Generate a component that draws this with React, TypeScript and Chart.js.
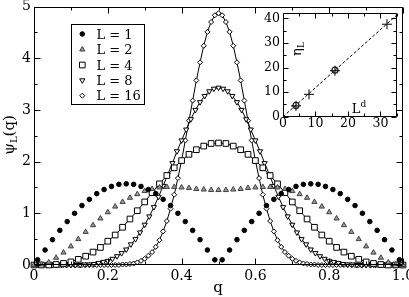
import React, { useEffect, useRef } from 'react';
import { Chart, registerables } from 'chart.js';

Chart.register(...registerables);

const FONT = "'DejaVu Serif', 'Liberation Serif', serif";

// ---------- main panel data ----------
const qL1 = [0.01,0.03,0.05,0.07,0.09,0.11,0.13,0.15,0.17,0.19,0.21,0.23,0.25,0.27,0.29,0.31,0.33,0.35,0.37,0.39,0.41,0.43,0.45,0.47,0.49,
  0.51,0.53,0.55,0.57,0.59,0.61,0.63,0.65,0.67,0.69,0.71,0.73,0.75,0.77,0.79,0.81,0.83,0.85,0.87,0.89,0.91,0.93,0.95,0.97,0.99];
const psiL1 = [0.10,0.29,0.49,0.67,0.84,1.00,1.15,1.27,1.38,1.46,1.52,1.56,1.57,1.56,1.52,1.46,1.38,1.27,1.15,1.00,0.84,0.67,0.49,0.29,0.10,
  0.10,0.29,0.49,0.67,0.84,1.00,1.15,1.27,1.38,1.46,1.52,1.56,1.57,1.56,1.52,1.46,1.38,1.27,1.15,1.00,0.84,0.67,0.49,0.29,0.10];

const q50 = [0,0.02,0.04,0.06,0.08,0.10,0.12,0.14,0.16,0.18,0.20,0.22,0.24,0.26,0.28,0.30,0.32,0.34,0.36,0.38,0.40,0.42,0.44,0.46,0.48,0.50,
  0.52,0.54,0.56,0.58,0.60,0.62,0.64,0.66,0.68,0.70,0.72,0.74,0.76,0.78,0.80,0.82,0.84,0.86,0.88,0.90,0.92,0.94,0.96,0.98,1.00];
const psiL2 = [0.00,0.01,0.05,0.14,0.24,0.36,0.50,0.64,0.77,0.90,1.02,1.13,1.22,1.30,1.37,1.43,1.47,1.50,1.51,1.51,1.50,1.49,1.47,1.46,1.45,1.45,
  1.45,1.46,1.47,1.49,1.50,1.51,1.51,1.50,1.47,1.43,1.37,1.30,1.22,1.13,1.02,0.90,0.77,0.64,0.50,0.36,0.24,0.14,0.05,0.01,0.00];
const psiL4 = [0.00,0.00,0.00,0.01,0.03,0.06,0.11,0.17,0.25,0.34,0.46,0.58,0.73,0.89,1.05,1.22,1.40,1.57,1.73,1.88,2.02,2.14,2.23,2.30,2.35,2.36,
  2.35,2.30,2.23,2.14,2.02,1.88,1.73,1.57,1.40,1.22,1.05,0.89,0.73,0.58,0.46,0.34,0.25,0.17,0.11,0.06,0.03,0.01,0.00,0.00,0.00];

const qL8 = [0,0.0125,0.025,0.0375,0.05,0.0625,0.075,0.0875,0.1,0.1125,0.125,0.1375,0.15,0.1625,0.175,0.1875,0.2,0.2125,0.225,0.2375,
  0.25,0.2625,0.275,0.2875,0.3,0.3125,0.325,0.3375,0.35,0.3625,0.375,0.3875,0.4,0.4125,0.425,0.4375,0.45,0.4625,0.475,0.4875,0.5,
  0.5125,0.525,0.5375,0.55,0.5625,0.575,0.5875,0.6,0.6125,0.625,0.6375,0.65,0.6625,0.675,0.6875,0.7,0.7125,0.725,0.7375,
  0.75,0.7625,0.775,0.7875,0.8,0.8125,0.825,0.8375,0.85,0.8625,0.875,0.8875,0.9,0.9125,0.925,0.9375,0.95,0.9625,0.975,0.9875,1];
const psiL8 = [0,0,0,0,0,0,0,0,0,0,0,
  0.01,0.01,0.02,0.04,0.06,0.08,0.12,0.17,0.23,0.30,0.40,0.50,0.63,0.78,0.94,1.12,1.32,1.53,1.75,1.97,2.20,2.41,2.62,2.82,3.00,3.15,3.27,3.36,3.41,3.43,
  3.41,3.36,3.27,3.15,3.00,2.82,2.62,2.41,2.20,1.97,1.75,1.53,1.32,1.12,0.94,0.78,0.63,0.50,0.40,0.30,0.23,0.17,0.12,0.08,0.06,0.04,0.02,0.01,0.01,
  0,0,0,0,0,0,0,0,0,0,0];

const q100 = [0,0.01,0.02,0.03,0.04,0.05,0.06,0.07,0.08,0.09,0.10,0.11,0.12,0.13,0.14,0.15,0.16,0.17,0.18,0.19,
  0.20,0.21,0.22,0.23,0.24,0.25,0.26,0.27,0.28,0.29,0.30,0.31,0.32,0.33,0.34,0.35,0.36,0.37,0.38,0.39,
  0.40,0.41,0.42,0.43,0.44,0.45,0.46,0.47,0.48,0.49,0.50,0.51,0.52,0.53,0.54,0.55,0.56,0.57,0.58,0.59,
  0.60,0.61,0.62,0.63,0.64,0.65,0.66,0.67,0.68,0.69,0.70,0.71,0.72,0.73,0.74,0.75,0.76,0.77,0.78,0.79,
  0.80,0.81,0.82,0.83,0.84,0.85,0.86,0.87,0.88,0.89,0.90,0.91,0.92,0.93,0.94,0.95,0.96,0.97,0.98,0.99,1.00];
const psiL16 = [0,0,0,0,0,0,0,0,0,0,0,0,0,0,0,0,0,0,0,0,0,0,0,0,
  0.01,0.01,0.02,0.03,0.05,0.08,0.12,0.18,0.25,0.35,0.48,0.65,0.85,1.09,1.36,1.68,2.02,2.41,2.79,3.18,3.57,3.92,4.24,4.51,4.70,4.83,4.87,
  4.83,4.70,4.51,4.24,3.92,3.57,3.18,2.79,2.41,2.02,1.68,1.36,1.09,0.85,0.65,0.48,0.35,0.25,0.18,0.12,0.08,0.05,0.03,0.02,0.01,0.01,
  0,0,0,0,0,0,0,0,0,0,0,0,0,0,0,0,0,0,0,0,0,0,0,0];

const seriesLabels = ['L = 1', 'L = 2', 'L = 4', 'L = 8', 'L = 16'];

const xMajorTicks = [0, 0.2, 0.4, 0.6, 0.8, 1];
const xMinorTicks = [0.1, 0.3, 0.5, 0.7, 0.9];
const yMajorTicks = [0, 1, 2, 3, 4, 5];
const yMinorTicks = [0.5, 1.5, 2.5, 3.5, 4.5];

// ---------- inset data ----------
const etaX = [4, 8, 16, 32];
const etaY = [4.4, 9.1, 18.7, 37.6];
const etaCircX = [4, 16];
const etaCircY = [4.6, 18.9];
const fitX = [0, 35];
const fitY = [0, 41.3];
const insetXMajor = [0, 10, 20, 30];
const insetXMinor = [5, 15, 25, 35];
const insetYMajor = [0, 10, 20, 30, 40];
const insetYMinor = [5, 15, 25, 35];

const pts = (xs: number[], ys: number[]) => xs.map((x, i) => ({ x, y: ys[i] }));

type Mk = { style: string; r: number; fill: string; stroke: string };
const markers: Mk[] = [
  { style: 'circle', r: 2.3, fill: '#000', stroke: '#000' },
  { style: 'triUp', r: 3.0, fill: '#9a9a9a', stroke: '#404040' },
  { style: 'rect', r: 4.0, fill: '#fff', stroke: '#000' },
  { style: 'triDown', r: 3.0, fill: '#fff', stroke: '#000' },
  { style: 'diamond', r: 2.5, fill: '#fff', stroke: '#000' },
];

function drawMarker(ctx: CanvasRenderingContext2D, m: Mk, x: number, y: number) {
  const r = m.r;
  ctx.beginPath();
  if (m.style === 'circle') ctx.arc(x, y, r, 0, Math.PI * 2);
  else if (m.style === 'triUp') { ctx.moveTo(x, y - r); ctx.lineTo(x + 0.866 * r, y + 0.5 * r); ctx.lineTo(x - 0.866 * r, y + 0.5 * r); ctx.closePath(); }
  else if (m.style === 'triDown') { ctx.moveTo(x, y + r); ctx.lineTo(x + 0.866 * r, y - 0.5 * r); ctx.lineTo(x - 0.866 * r, y - 0.5 * r); ctx.closePath(); }
  else if (m.style === 'rect') { const s = r * Math.SQRT1_2; ctx.rect(x - s, y - s, 2 * s, 2 * s); }
  else { ctx.moveTo(x - r, y); ctx.lineTo(x, y - r); ctx.lineTo(x + r, y); ctx.lineTo(x, y + r); ctx.closePath(); }
  ctx.fillStyle = m.fill; ctx.fill();
  ctx.strokeStyle = m.stroke; ctx.lineWidth = 1; ctx.stroke();
}

function drawFrame(chart: any, xMaj: number[], xMin: number[], yMaj: number[], yMin: number[], maj: number, min: number) {
  const { ctx, chartArea: a, scales } = chart;
  const L = Math.round(a.left) + 0.5, R = Math.round(a.right) - 0.5;
  const T = Math.round(a.top) + 0.5, B = Math.round(a.bottom) - 0.5;
  ctx.save();
  ctx.strokeStyle = '#000';
  ctx.lineWidth = 1;
  ctx.setLineDash([]);
  ctx.beginPath();
  ctx.rect(L, T, R - L, B - T);
  const vx = (v: number, len: number) => {
    const p = Math.round(scales.x.getPixelForValue(v)) + 0.5;
    ctx.moveTo(p, B); ctx.lineTo(p, B - len);
    ctx.moveTo(p, T); ctx.lineTo(p, T + len);
  };
  const vy = (v: number, len: number) => {
    const p = Math.round(scales.y.getPixelForValue(v)) + 0.5;
    ctx.moveTo(L, p); ctx.lineTo(L + len, p);
    ctx.moveTo(R, p); ctx.lineTo(R - len, p);
  };
  xMaj.forEach(v => vx(v, maj)); xMin.forEach(v => vx(v, min));
  yMaj.forEach(v => vy(v, maj)); yMin.forEach(v => vy(v, min));
  ctx.stroke();
  ctx.restore();
}

type Part = { t: string; size: number; dy: number };
function drawParts(ctx: CanvasRenderingContext2D, parts: Part[], cx: number, base: number) {
  let total = 0;
  const widths = parts.map(p => { ctx.font = `${p.size}px ${FONT}`; const w = ctx.measureText(p.t).width; total += w; return w; });
  let x = cx - total / 2;
  ctx.textAlign = 'left';
  ctx.textBaseline = 'alphabetic';
  parts.forEach((p, i) => { ctx.font = `${p.size}px ${FONT}`; ctx.fillText(p.t, x, base + p.dy); x += widths[i]; });
}

const setTicks = (vals: number[]) => (s: any) => { s.ticks = vals.map(v => ({ value: v })); };

export default function App() {
  const mainRef = useRef<HTMLCanvasElement>(null);
  const insetRef = useRef<HTMLCanvasElement>(null);

  useEffect(() => {
    const seriesData = [pts(qL1, psiL1), pts(q50, psiL2), pts(q50, psiL4), pts(qL8, psiL8), pts(q100, psiL16)];
    const chartStyles = ['circle', 'triangle', 'rect', 'triangle', 'rectRot'];
    const rotations = [0, 0, 0, 180, 0];
    const withLine = [false, false, true, true, true];

    const datasets = seriesData.map((d, i) => ({
      label: seriesLabels[i],
      data: d,
      showLine: withLine[i],
      borderColor: '#000',
      borderWidth: 1,
      pointStyle: chartStyles[i],
      rotation: rotations[i],
      pointRadius: markers[i].r,
      pointBackgroundColor: markers[i].fill,
      pointBorderColor: markers[i].stroke,
      pointBorderWidth: 1,
      clip: false,
    }));

    const mainDecor = {
      id: 'mainDecor',
      afterDatasetsDraw(chart: any) {
        drawFrame(chart, xMajorTicks, xMinorTicks, yMajorTicks, yMinorTicks, 6, 3);
      },
      afterDraw(chart: any) {
        const ctx: CanvasRenderingContext2D = chart.ctx;
        ctx.save();
        // legend
        ctx.fillStyle = '#fff';
        ctx.fillRect(71.5, 24.5, 73, 80);
        ctx.strokeStyle = '#000'; ctx.lineWidth = 1;
        ctx.strokeRect(71.5, 24.5, 73, 80);
        const rows = [34, 49.5, 65, 80.3, 95.7];
        rows.forEach((ry, i) => {
          drawMarker(ctx, markers[i], 82.3, ry);
          ctx.fillStyle = '#000';
          ctx.font = `13px ${FONT}`;
          ctx.textAlign = 'left';
          ctx.textBaseline = 'alphabetic';
          ctx.fillText(seriesLabels[i], 96.5, ry + 4.7);
        });
        // x title
        ctx.fillStyle = '#000';
        drawParts(ctx, [{ t: 'q', size: 15, dy: 0 }], 218, 292);
        // y title
        ctx.translate(9, 135);
        ctx.rotate(-Math.PI / 2);
        drawParts(ctx, [{ t: 'ψ', size: 15, dy: 0 }, { t: 'L', size: 10, dy: 3 }, { t: '(q)', size: 15, dy: 0 }], 0, 5);
        ctx.restore();
      },
    };

    const main = new Chart(mainRef.current as HTMLCanvasElement, {
      type: 'scatter',
      data: { datasets },
      options: {
        animation: false,
        responsive: false,
        devicePixelRatio: 1,
        layout: { padding: { left: 0, top: 6.5, right: 6, bottom: 0 } },
        plugins: { legend: { display: false }, tooltip: { enabled: false } },
        scales: {
          x: {
            type: 'linear', min: 0, max: 1,
            afterBuildTicks: setTicks(xMajorTicks),
            afterFit: (s: any) => { s.height = 32; s.paddingLeft = 0; s.paddingRight = 0; },
            grid: { display: false, drawTicks: false },
            border: { display: false },
            ticks: { color: '#000', font: { family: FONT, size: 14 }, padding: 3, maxRotation: 0, autoSkip: false },
          },
          y: {
            type: 'linear', min: 0, max: 5,
            afterBuildTicks: setTicks(yMajorTicks),
            afterFit: (s: any) => { s.width = 34; s.paddingTop = 0; s.paddingBottom = 0; },
            grid: { display: false, drawTicks: false },
            border: { display: false },
            ticks: { color: '#000', font: { family: FONT, size: 14 }, padding: 3 },
          },
        },
      },
      plugins: [mainDecor],
    } as any);

    const insetDecor = {
      id: 'insetDecor',
      beforeDraw(chart: any) {
        const { ctx, chartArea: a } = chart;
        ctx.save();
        ctx.fillStyle = '#fff';
        ctx.fillRect(a.left, a.top, a.right - a.left, a.bottom - a.top);
        ctx.restore();
      },
      afterDatasetsDraw(chart: any) {
        drawFrame(chart, insetXMajor, insetXMinor, insetYMajor, insetYMinor, 5, 3);
      },
      afterDraw(chart: any) {
        const ctx: CanvasRenderingContext2D = chart.ctx;
        ctx.save();
        ctx.fillStyle = '#000';
        // L^d
        drawParts(ctx, [{ t: 'L', size: 13, dy: 0 }, { t: 'd', size: 9, dy: -6 }], 104, 113);
        // eta_L rotated
        ctx.translate(43, 49);
        ctx.rotate(-Math.PI / 2);
        drawParts(ctx, [{ t: 'η', size: 13, dy: 0 }, { t: 'L', size: 9, dy: 3 }], 0, 3);
        ctx.restore();
      },
    };

    const inset = new Chart(insetRef.current as HTMLCanvasElement, {
      type: 'scatter',
      data: {
        datasets: [
          {
            label: 'crosses', data: pts(etaX, etaY), pointStyle: 'cross', pointRadius: 5,
            pointBorderColor: '#000', pointBorderWidth: 1, showLine: false, clip: false,
          },
          {
            label: 'circles', data: pts(etaCircX, etaCircY), pointStyle: 'circle', pointRadius: 3,
            pointBackgroundColor: 'rgba(0,0,0,0)', pointBorderColor: '#222', pointBorderWidth: 1.2, showLine: false, clip: false,
          },
          {
            label: 'fit', data: pts(fitX, fitY), showLine: true, borderColor: '#000', borderWidth: 1,
            borderDash: [3, 2], pointRadius: 0,
          },
        ],
      },
      options: {
        animation: false,
        responsive: false,
        devicePixelRatio: 1,
        layout: { padding: { left: 0, top: 13.4, right: 8.3, bottom: 0 } },
        plugins: { legend: { display: false }, tooltip: { enabled: false } },
        scales: {
          x: {
            type: 'linear', min: 0, max: 35,
            afterBuildTicks: setTicks(insetXMajor),
            afterFit: (s: any) => { s.height = 18.3; s.paddingLeft = 0; s.paddingRight = 0; },
            grid: { display: false, drawTicks: false },
            border: { display: false },
            ticks: { color: '#000', font: { family: FONT, size: 12.5 }, padding: 0, maxRotation: 0, autoSkip: false },
          },
          y: {
            type: 'linear', min: 0, max: 42,
            afterBuildTicks: setTicks(insetYMajor),
            afterFit: (s: any) => { s.width = 28; s.paddingTop = 0; s.paddingBottom = 0; },
            grid: { display: false, drawTicks: false },
            border: { display: false },
            ticks: { color: '#000', font: { family: FONT, size: 12.5 }, padding: 3 },
          },
        },
      },
      plugins: [insetDecor],
    } as any);

    return () => { main.destroy(); inset.destroy(); };
  }, []);

  return (
    <div style={{ position: 'fixed', left: 0, top: 0, width: 409, height: 297, background: '#fff', overflow: 'hidden' }}>
      <canvas ref={mainRef} width={409} height={297} style={{ position: 'absolute', left: 0, top: 0, width: 409, height: 297 }} />
      <canvas ref={insetRef} width={150} height={135} style={{ position: 'absolute', left: 255, top: 0, width: 150, height: 135 }} />
    </div>
  );
}
